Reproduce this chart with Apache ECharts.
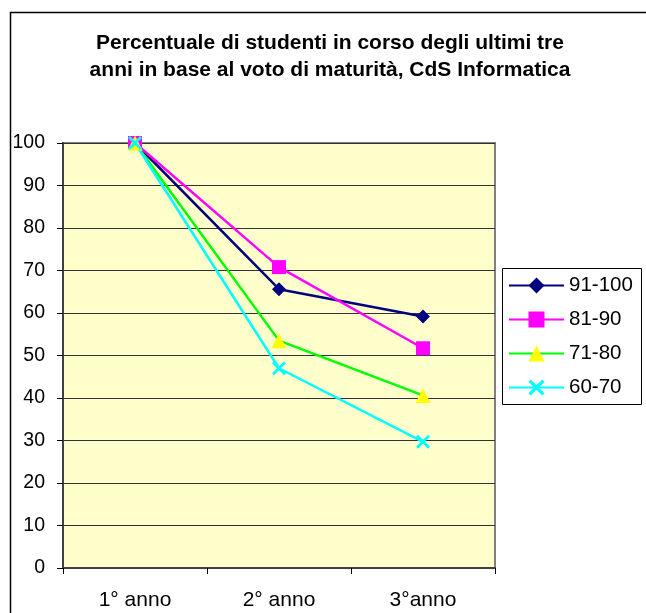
<!DOCTYPE html>
<html><head><meta charset="utf-8">
<script src="https://cdn.jsdelivr.net/npm/echarts@6/dist/echarts.min.js"></script>
<style>html,body{margin:0;padding:0;background:#fff}#c{width:646px;height:613px}</style>
</head><body><div id="c"></div>
<script>
var categories = ['1° anno', '2° anno', '3°anno'];
var seriesNames = ['91-100', '81-90', '71-80', '60-70'];
var s91_100 = [100, 65.6, 59.2];
var s81_90 = [100, 70.8, 51.7];
var s71_80 = [100, 53.5, 40.6];
var s60_70 = [100, 47.0, 29.7];
var yTicks = [0, 10, 20, 30, 40, 50, 60, 70, 80, 90, 100];

var FONT = '"Liberation Sans", Arial, sans-serif';
var xPath = 'path://M0,1.4 L1.4,0 L5,3.6 L8.6,0 L10,1.4 L6.4,5 L10,8.6 L8.6,10 L5,6.4 L1.4,10 L0,8.6 L3.6,5 Z';

function mk(name, data, lineColor, symbol, symColor, size) {
  return {
    name: name, type: 'line', data: data,
    symbol: symbol, symbolSize: size,
    lineStyle: { color: lineColor, width: 2.5 },
    itemStyle: { color: symColor, borderWidth: 0 },
    emphasis: { disabled: true },
    animation: false
  };
}

var chart = echarts.init(document.getElementById('c'), null, { renderer: 'canvas' });
chart.setOption({
  animation: false,
  backgroundColor: '#ffffff',
  title: {
    text: 'Percentuale di studenti in corso degli ultimi tre\nanni in base al voto di maturità, CdS Informatica',
    left: 330, top: 30, textAlign: 'center', padding: 0,
    textStyle: { fontFamily: FONT, fontSize: 21, fontWeight: 'bold', color: '#000', lineHeight: 27 }
  },
  graphic: [
    { type: 'rect', left: 8, top: 10, shape: { width: 700, height: 700 }, style: { fill: 'none', stroke: '#000', lineWidth: 1.5 }, silent: true },
    { type: 'rect', left: 502, top: 268, shape: { width: 139, height: 136 }, style: { fill: '#fff', stroke: '#000', lineWidth: 1 }, silent: true, z: 0 }
  ],
  legend: {
    orient: 'vertical', left: 508, top: 275, padding: 0,
    itemWidth: 55, itemHeight: 20, itemGap: 13,
    data: seriesNames,
    textStyle: { fontFamily: FONT, fontSize: 20.5, color: '#000', lineHeight: 20, padding: [0, 0, 0, 0] },
    z: 5
  },
  grid: {
    left: 63, top: 143, width: 432, height: 425,
    show: true, backgroundColor: '#FFFFCC', borderColor: '#808080', borderWidth: 2
  },
  xAxis: {
    type: 'category', data: categories, boundaryGap: true,
    axisLine: { show: true, lineStyle: { color: '#404040', width: 2 } },
    axisTick: { show: true, length: 6, lineStyle: { color: '#000', width: 1 } },
    axisLabel: { fontFamily: FONT, fontSize: 21, color: '#000', margin: 22 },
    splitLine: { show: false }
  },
  yAxis: {
    type: 'value', min: 0, max: 100, interval: 10,
    axisLine: { show: true, lineStyle: { color: '#404040', width: 2 } },
    axisTick: { show: true, length: 6, lineStyle: { color: '#000', width: 1 } },
    axisLabel: { fontFamily: FONT, fontSize: 19.5, color: '#000', margin: 18,
      formatter: function (v) { return yTicks.indexOf(v) >= 0 ? String(v) : ''; } },
    splitLine: { show: true, lineStyle: { color: '#333', width: 1 } }
  },
  series: [
    mk(seriesNames[0], s91_100, '#000080', 'diamond', '#000080', 14),
    mk(seriesNames[1], s81_90, '#FF00FF', 'rect', '#FF00FF', 14),
    mk(seriesNames[2], s71_80, '#00FF00', 'triangle', '#FFFF00', 15),
    mk(seriesNames[3], s60_70, '#00FFFF', xPath, '#00FFFF', 14)
  ]
});
</script></body></html>
